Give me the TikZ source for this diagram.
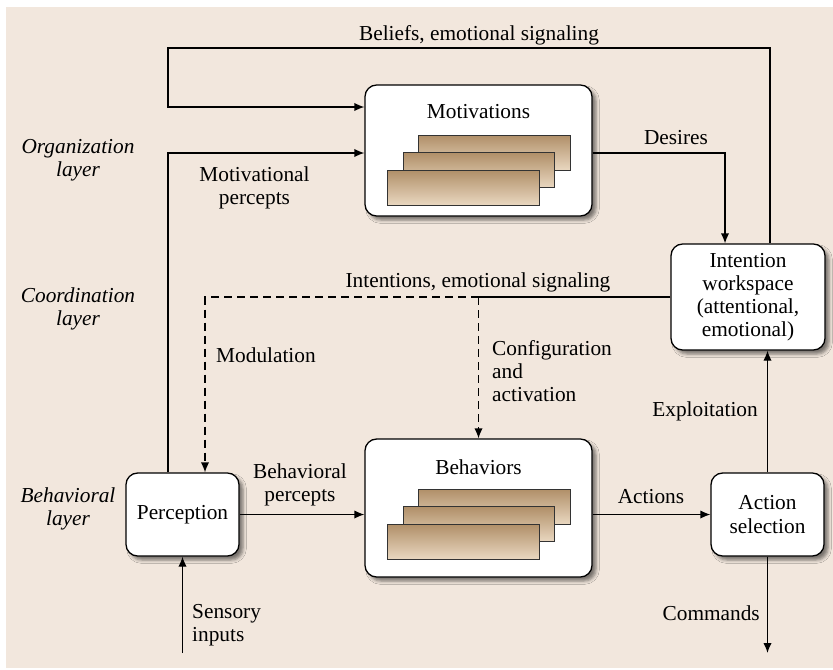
\documentclass[tikz,border=0pt]{standalone}
\usepackage{fontspec}
\setmainfont{LiberationSerif}[Extension=.ttf,UprightFont=*-Regular,
  ItalicFont=*-Italic,BoldFont=*-Bold,BoldItalicFont=*-BoldItalic]
\usetikzlibrary{arrows.meta,calc,positioning,shadows.blur}
\definecolor{paper}{RGB}{242,231,221}
\definecolor{tantop}{RGB}{176,143,104}
\definecolor{tanbot}{RGB}{233,215,192}

\begin{document}
\begin{tikzpicture}[x=0.3mm,y=-0.3mm,>={Latex[length=3mm,width=2.5mm]},
  font=\fontsize{18.2}{19.8}\selectfont,
  flow/.style={->,line width=1.1pt},
  link/.style={line width=1.1pt},
  mod/.style={line width=1.1pt,dash pattern=on 2.4mm off 1.5mm},
  box/.style={draw,line width=1.1pt,fill=white,rounded corners=3.5mm,
    align=center,inner sep=0pt,
    blur shadow={shadow xshift=1.2mm,shadow yshift=-1.2mm,
      shadow blur radius=1mm,shadow opacity=50}},
  sheet/.style={draw=black!80,line width=.8pt,top color=tantop,bottom color=tanbot},
  layer/.style={align=center,font=\fontsize{18.2}{19.8}\selectfont\itshape},
  ann/.style={align=center,inner sep=0pt}]
\useasboundingbox (0,0) rectangle (833,669);
\fill[paper] (6,7) rectangle (833,668);
% layers
\node[layer] (orgL) at (78,160) {Organization\\layer};
\node[layer] (coordL) at (78,309) {Coordination\\layer};
\node[layer] (behL) at (68,509) {Behavioral\\layer};
% boxes
\node[box,minimum width=68.1mm,minimum height=39.3mm] (mot) at (478.5,150.5) {};
\node[box,minimum width=68.1mm,minimum height=41.4mm] (beh) at (478.5,508) {};
\node[box,minimum width=33.9mm,minimum height=24.9mm] (perc) at (182.5,514.5) {Perception};
\node[box,minimum width=33.9mm,minimum height=24.9mm] (act) at (767.5,514.5) {Action\\selection};
\node[box,minimum width=46.2mm,minimum height=31.8mm] (intent) at (748,297)
  {Intention\\workspace\\(attentional,\\emotional)};
\node[ann] (motT) at (478.5,112) {Motivations};
\node[ann] (behT) at (478.5,467) {Behaviors};
\foreach \b/\t in {85/m,439/b}{
 \foreach \k in {2,1,0}{
  \draw[sheet] (387.5+15.5*\k,\b+85-17.5*\k) rectangle (539+15.5*\k,\b+120-17.5*\k);
 }
}
% connectors
\coordinate (topR) at (770,48);
\coordinate (topL) at (168,48);
\coordinate (desX) at (725,153);
\coordinate (pX) at (168,153);
\coordinate (modX) at (205,297);
\coordinate (split) at (478.5,297);
\coordinate (sens) at (182.5,653);
\coordinate (cmd) at (767.5,653);
\draw[flow] (intent.north -| topR) |- (topL) |- ([yshift=13.05mm]mot.west);
\draw[flow] ([yshift=-.75mm]mot.east) -| (intent.north -| desX);
\draw[flow] (perc.north -| pX) |- ([yshift=-.75mm]mot.west);
\draw[link] (intent.west) -- (split);
\draw[mod,->] (split) -| (perc.north -| modX);
\draw[mod,->] (split) -- (beh.north);
\draw[flow] (perc.east) -- (perc.east -| beh.west);
\draw[flow] (beh.east |- act) -- (act.west);
\draw[flow] (act.north) -- (act.north |- intent.south);
\draw[flow] (sens) -- (perc.south);
\draw[flow] (act.south) -- (cmd);
% labels
\node[ann] (belL) at (479,35) {Beliefs, emotional signaling};
\node[ann] (desL) at (676,138) {Desires};
\node[ann] (mpL) at (254.5,188) {Motivational\\percepts};
\node[ann] (intL) at (478,282) {Intentions, emotional signaling};
\node[ann,anchor=west] (modL) at (216,355) {Modulation};
\node[ann,anchor=west,align=left] (cfgL) at (492,371) {Configuration\\and\\activation};
\node[ann] (bpL) at (300,485) {Behavioral\\percepts};
\node[ann] (actL) at (651,497) {Actions};
\node[ann,anchor=east] (expL) at (758,411) {Exploitation};
\node[ann,anchor=west,align=left] (sensL) at (192,625) {Sensory\\inputs};
\node[ann,anchor=east] (cmdL) at (760,613) {Commands};
\end{tikzpicture}
\end{document}
